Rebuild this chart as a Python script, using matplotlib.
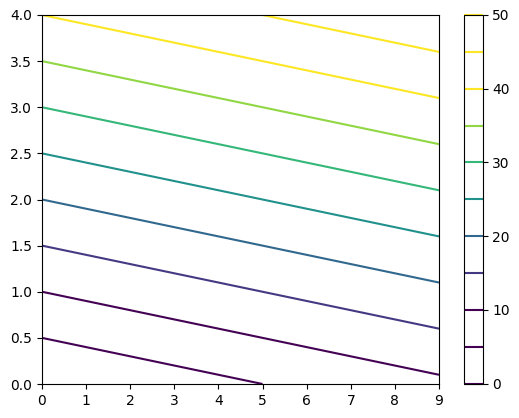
import matplotlib
matplotlib.use("Agg")
import matplotlib.pyplot as plt
import numpy as np

x = [0, 1, 2, 3, 4, 5, 6, 7, 8, 9]
y = [0, 1, 2, 3, 4]
z = [
    [0, 1, 2, 3, 4, 5, 6, 7, 8, 9],
    [10, 11, 12, 13, 14, 15, 16, 17, 18, 19],
    [20, 21, 22, 23, 24, 25, 26, 27, 28, 29],
    [30, 31, 32, 33, 34, 35, 36, 37, 38, 39],
    [40, 41, 42, 43, 44, 45, 46, 47, 48, 49],
]
levels = [0, 5, 10, 15, 20, 25, 30, 35, 40, 45, 50]
color_min, color_max = 10, 40

fig = plt.figure(figsize=(5.19, 4.18), dpi=100)
ax = fig.add_axes([42/519, 1 - 384/418, (439 - 42)/519, (384 - 15)/418])
cax = fig.add_axes([464/519, 1 - 383.5/418, 18.5/519, (383.5 - 15)/418])
cs = ax.contour(np.array(x), np.array(y), np.array(z), levels=levels, cmap="viridis",
                vmin=color_min, vmax=color_max)
fig.colorbar(cs, cax=cax)
fig.savefig("out.png", dpi=100)
